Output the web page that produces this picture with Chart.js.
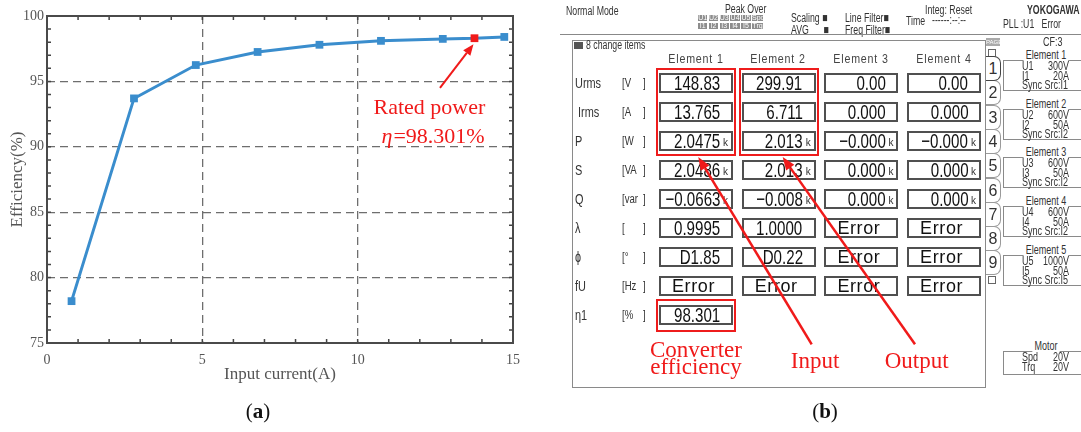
<!DOCTYPE html>
<html>
<head>
<meta charset="utf-8">
<script src="https://cdn.jsdelivr.net/npm/chart.js@4.4.1/dist/chart.umd.min.js"></script>
<style>
  body { margin: 0; background: #fff; }
  #page { position: relative; width: 1081px; height: 432px; overflow: hidden; background: #fff; }
  #effChart { position: absolute; left: 0; top: 0; }
  .abs { position: absolute; white-space: pre; }
  .cap { font-family: 'Liberation Serif', serif; font-size: 21px; color: #111; transform: translateX(-50%); }
  #panelB { position: absolute; left: 0; top: 0; width: 1081px; height: 432px; }
  #panelB .abs { font-family: 'Liberation Sans', sans-serif; color: #333; }
  .hdr { font-size: 12.5px; line-height: 11px; transform-origin: left top; transform: scaleX(0.7); }
  .mainbox { border: 1.5px solid #8a8a8a; box-sizing: border-box; }
  .elname { font-size: 13px; letter-spacing: 1px; color: #444 !important; transform: translate(-50%, -50%) scaleX(0.82); }
  .rowlbl { font-size: 14px; transform-origin: left center; transform: translateY(-50%) scaleX(0.78); }
  .unit { font-size: 12px; transform-origin: left center; transform: translateY(-50%) scaleX(0.8); }
  .vbox { border: 2px solid #505050; box-sizing: border-box; background: #fff; }
  .num { right: 11px; top: 50%; font-size: 21px; color: #111 !important; transform-origin: right center; transform: translateY(-50%) scaleX(0.72); }
  .kilo { right: 3px; top: 50%; font-size: 10px; transform: translateY(-35%); }
  .err { left: 11px; top: 50%; font-size: 18px; letter-spacing: 0.6px; color: #111 !important; transform: translateY(-50%); }
  .redbox { border: 2px solid #ee1c1c; box-sizing: border-box; }
  .tab { border: 1px solid #9a9a9a; border-left: none; border-radius: 0 7px 7px 0; box-sizing: border-box; background: #fff; font-size: 16px; text-align: center; line-height: 24px; }
  .info { font-size: 12px; line-height: 11px; transform-origin: left top; transform: scaleX(0.75); }
  .infor { font-size: 12px; line-height: 11px; text-align: right; transform-origin: right top; transform: scaleX(0.75); }
  .grp { border: 1px solid #8a8a8a; border-right: none; box-sizing: border-box; }
  .grplbl { font-size: 12.5px; background: #fff; padding: 0 3px; transform: translate(-50%, -50%) scaleX(0.72); }
  .mini { font-size: 7px; line-height: 6px; height: 6px; background: #8d8d8d; color: #fff !important; text-align: center; }
</style>
</head>
<body>
<div id="page">
  <canvas id="effChart" width="540" height="395"></canvas>
  <div id="panelB"></div>
  <svg id="overlay" class="abs" width="1081" height="432" style="left:0;top:0;pointer-events:none"></svg>
  <div class="abs cap" style="left:258px;top:399px">(<b>a</b>)</div>
  <div class="abs cap" style="left:825px;top:399px">(<b>b</b>)</div>
</div>
<script>
// ---- panel (a) data ----
const currentA = [0.79, 2.8, 4.79, 6.78, 8.77, 10.75, 12.74, 13.76, 14.72];
const efficiency = [78.2, 93.7, 96.25, 97.25, 97.8, 98.1, 98.25, 98.301, 98.4];
const ratedIndex = 7;
const xRange = [0, 15];
const yRange = [75, 100];
const majorStep = 5;

// ---- panel (b) data ----
const elementNames = ['Element 1', 'Element 2', 'Element 3', 'Element 4'];
const rowLabels = ['Urms', ' Irms', 'P', 'S', 'Q', 'λ', 'ɸ', 'fU', 'η1'];
const rowUnits = ['V', 'A', 'W', 'VA', 'var', '', '°', 'Hz', '%'];
const element1 = ['148.83', '13.765', '2.0475', '2.0486', '−0.0663', '0.9995', 'D1.85', 'Error', '98.301'];
const element2 = ['299.91', '6.711', '2.013', '2.013', '−0.008', '1.0000', 'D0.22', 'Error'];
const element3 = ['0.00', '0.000', '−0.000', '0.000', '0.000', 'Error', 'Error', 'Error'];
const element4 = ['0.00', '0.000', '−0.000', '0.000', '0.000', 'Error', 'Error', 'Error'];
const kiloRows = [2, 3, 4];
const rangeU = ['300V', '600V', '600V', '600V', '1000V'];
const rangeI = ['20A', '50A', '50A', '50A', '50A'];
const syncSrc = ['I1', 'I2', 'I2', 'I2', 'I5'];

const BLUE = '#3a8dcd';
const RED = '#f01a1a';
const AXIS_TXT = '#555';

// frame + inward minor ticks on all four sides
const frameTicks = {
  id: 'frameTicks',
  beforeDatasetsDraw(chart) {
    const {ctx, chartArea: a, scales: {x, y}} = chart;
    ctx.save();
    ctx.strokeStyle = '#444';
    ctx.lineWidth = 1.5;
    for (let v = xRange[0] + 1; v < xRange[1]; v++) {
      const px = x.getPixelForValue(v);
      ctx.beginPath();
      ctx.moveTo(px, a.bottom); ctx.lineTo(px, a.bottom - 4);
      ctx.moveTo(px, a.top); ctx.lineTo(px, a.top + 4);
      ctx.stroke();
    }
    for (let v = yRange[0] + 1; v < yRange[1]; v++) {
      const py = y.getPixelForValue(v);
      ctx.beginPath();
      ctx.moveTo(a.left, py); ctx.lineTo(a.left + 4, py);
      ctx.moveTo(a.right, py); ctx.lineTo(a.right - 4, py);
      ctx.stroke();
    }
    ctx.lineWidth = 2;
    ctx.strokeStyle = '#4a4a4a';
    ctx.strokeRect(a.left, a.top, a.right - a.left, a.bottom - a.top);
    ctx.restore();
  }
};

function arrowCanvas(ctx, x1, y1, x2, y2, w, len, half) {
  const ang = Math.atan2(y2 - y1, x2 - x1);
  const bx = x2 - len * Math.cos(ang), by = y2 - len * Math.sin(ang);
  ctx.beginPath();
  ctx.moveTo(x1, y1); ctx.lineTo(bx, by);
  ctx.lineWidth = w; ctx.stroke();
  ctx.beginPath();
  ctx.moveTo(x2, y2);
  ctx.lineTo(bx + half * Math.sin(ang), by - half * Math.cos(ang));
  ctx.lineTo(bx - half * Math.sin(ang), by + half * Math.cos(ang));
  ctx.closePath(); ctx.fill();
}

const ratedNote = {
  id: 'ratedNote',
  afterDatasetsDraw(chart) {
    const {ctx, scales: {x, y}} = chart;
    const px = x.getPixelForValue(currentA[ratedIndex]);
    const py = y.getPixelForValue(efficiency[ratedIndex]);
    ctx.save();
    ctx.strokeStyle = RED; ctx.fillStyle = RED;
    arrowCanvas(ctx, x.getPixelForValue(12.65), y.getPixelForValue(94.5), px - 1, py + 6, 2, 11, 4.5);
    ctx.font = '22px "Liberation Serif", serif';
    ctx.textAlign = 'center';
    ctx.fillText('Rated power', x.getPixelForValue(12.31), y.getPixelForValue(92.51));
    const rest = '=' + efficiency[ratedIndex].toFixed(3) + '%';
    const wRest = ctx.measureText(rest).width;
    ctx.font = 'italic 22px "Liberation Serif", serif';
    const wEta = ctx.measureText('η').width;
    const cx = x.getPixelForValue(12.41), by = y.getPixelForValue(90.31);
    const start = cx - (wEta + wRest) / 2;
    ctx.textAlign = 'left';
    ctx.fillText('η', start, by);
    ctx.font = '22px "Liberation Serif", serif';
    ctx.fillText(rest, start + wEta + 1, by);
    ctx.restore();
  }
};

const hideEdge = (lo, hi) => c => (c.tick && (c.tick.value === lo || c.tick.value === hi)) ? 'rgba(0,0,0,0)' : '#6e6e6e';

new Chart(document.getElementById('effChart'), {
  type: 'line',
  data: {
    datasets: [{
      data: currentA.map((v, i) => ({x: v, y: efficiency[i]})),
      borderColor: BLUE,
      borderWidth: 3,
      pointStyle: 'rect',
      pointRadius: 5.5,
      pointBorderWidth: 0,
      pointBackgroundColor: currentA.map((_, i) => i === ratedIndex ? RED : BLUE),
      pointBorderColor: currentA.map((_, i) => i === ratedIndex ? RED : BLUE),
      tension: 0
    }]
  },
  options: {
    responsive: false,
    animation: false,
    layout: {padding: {top: 16, right: 27, left: 0, bottom: 0}},
    plugins: {legend: {display: false}, tooltip: {enabled: false}},
    scales: {
      x: {
        type: 'linear', min: xRange[0], max: xRange[1],
        ticks: {stepSize: majorStep, color: AXIS_TXT, padding: 9, font: {family: 'Liberation Serif', size: 14}},
        grid: {color: hideEdge(xRange[0], xRange[1]), lineWidth: 1.3, drawTicks: false},
        border: {display: false, dash: [8, 5]},
        title: {display: true, text: 'Input current(A)', color: AXIS_TXT, padding: {top: 0, bottom: 10}, font: {family: 'Liberation Serif', size: 17}},
        afterFit: s => { s.height = 52; }
      },
      y: {
        type: 'linear', min: yRange[0], max: yRange[1],
        ticks: {stepSize: majorStep, color: AXIS_TXT, padding: 3, font: {family: 'Liberation Serif', size: 14}},
        grid: {color: hideEdge(yRange[0], yRange[1]), lineWidth: 1.3, drawTicks: false},
        border: {display: false, dash: [8, 5]},
        title: {display: true, text: 'Efficiency(%)', color: AXIS_TXT, padding: {top: 7, bottom: 0}, font: {family: 'Liberation Serif', size: 17}},
        afterFit: s => { s.width = 47; }
      }
    }
  },
  plugins: [frameTicks, ratedNote]
});

// ---- panel (b): analyser screen ----
const pb = document.getElementById('panelB');
function put(left, top, w, h, cls, text, parent) {
  const d = document.createElement('div');
  d.className = 'abs ' + (cls || '');
  if (left != null) d.style.left = left + 'px';
  if (top != null) d.style.top = top + 'px';
  if (w != null) d.style.width = w + 'px';
  if (h != null) d.style.height = h + 'px';
  if (text != null) d.textContent = text;
  (parent || pb).appendChild(d);
  return d;
}

// top status bar
put(566, 6, null, null, 'hdr', 'Normal Mode');
put(725, 4, null, null, 'hdr', 'Peak Over');
['U1', 'U2', 'U3', 'U4', 'U5', 'Spd'].forEach((t, i) => put(698 + i * 10.8, 15, i === 5 ? 11 : 9.4, null, 'mini', t));
['I1', 'I2', 'I3', 'I4', 'I5', 'Trq'].forEach((t, i) => put(698 + i * 10.8, 23, i === 5 ? 11 : 9.4, null, 'mini', t));
put(791, 13, null, null, 'hdr', 'Scaling ■');
put(791, 25, null, null, 'hdr', 'AVG      ■');
put(845, 13, null, null, 'hdr', 'Line Filter■');
put(845, 25, null, null, 'hdr', 'Freq Filter■');
put(906, 16, null, null, 'hdr', 'Time');
put(925, 5, null, null, 'hdr', 'Integ: Reset');
put(932, 15, null, null, 'hdr', '------:--:--');
const yk = put(1027, 5, null, null, 'hdr', 'YOKOGAWA');
yk.style.fontWeight = 'bold';
put(1003, 19, null, null, 'hdr', 'PLL :U1   Error');
put(560, 34, 521, 0, '').style.borderTop = '1.5px solid #888';

// main window
put(571.5, 40, 414, 348, 'mainbox');
put(574, 42, 9, 7, '').style.background = '#555';
put(586, 40, null, null, 'hdr', '8 change items');

const columns = [element1, element2, element3, element4];
elementNames.forEach((n, c) => put(695.5 + c * 82.7, 58, null, null, 'elname', n));
rowLabels.forEach((lbl, r) => {
  const cy = 83.3 + r * 29;
  put(575, cy, null, null, 'rowlbl', lbl);
  put(622, cy, null, null, 'unit', '[' + rowUnits[r]);
  put(643, cy, null, null, 'unit', ']');
});
columns.forEach((col, c) => {
  col.forEach((v, r) => {
    const box = put(659 + c * 82.7, 73.3 + r * 29, 74, 20, 'vbox');
    if (v === 'Error') {
      put(null, null, null, null, 'err', v, box);
    } else {
      put(null, null, null, null, 'num', v, box);
      if (kiloRows.includes(r)) put(null, null, null, null, 'kilo', 'k', box);
    }
  });
});

// red highlight boxes
put(656, 67.7, 80, 88.5, 'redbox');
put(739, 67.7, 79.5, 88.5, 'redbox');
put(656, 299.3, 80, 33, 'redbox');

// page tabs
const pg = put(986, 38, 14, 8, '', 'PAGE');
pg.style.fontSize = '6px'; pg.style.lineHeight = '8px'; pg.style.background = '#aaa'; pg.style.color = '#fff';
put(988, 49, 6, 6, '').style.border = '1px solid #666';
for (let i = 0; i < 9; i++) {
  const t = put(986, 56 + i * 24.3, 15, 25, 'tab', String(i + 1));
  if (i === 0) { t.style.borderColor = '#444'; t.style.zIndex = 2; }
}
put(988, 276, 6, 6, '').style.border = '1px solid #666';

// range groups on the right
put(1043, 37, null, null, 'info', 'CF:3');
rangeU.forEach((u, i) => {
  const top = 60 + i * 48.7;
  put(1003, top, 80, 31, 'grp');
  put(1046, top - 5, null, null, 'grplbl', 'Element ' + (i + 1));
  put(1022, top + 1, null, null, 'info', 'U' + (i + 1));
  put(1022, top + 11, null, null, 'info', 'I' + (i + 1));
  put(1000, top + 1, 69, null, 'infor', u);
  put(1000, top + 11, 69, null, 'infor', rangeI[i]);
  put(1022, top + 20, null, null, 'info', 'Sync Src:' + syncSrc[i]);
});
put(1003, 351, 80, 24, 'grp');
put(1046, 346, null, null, 'grplbl', 'Motor');
put(1022, 352, null, null, 'info', 'Spd');
put(1022, 362, null, null, 'info', 'Trq');
put(1000, 352, 69, null, 'infor', '20V');
put(1000, 362, 69, null, 'infor', '20V');

// red arrows and labels
const svg = document.getElementById('overlay');
const NS = 'http://www.w3.org/2000/svg';
function svgArrow(x1, y1, x2, y2) {
  const ang = Math.atan2(y2 - y1, x2 - x1), len = 13, half = 5;
  const bx = x2 - len * Math.cos(ang), by = y2 - len * Math.sin(ang);
  const l = document.createElementNS(NS, 'line');
  l.setAttribute('x1', x1); l.setAttribute('y1', y1); l.setAttribute('x2', bx); l.setAttribute('y2', by);
  l.setAttribute('stroke', RED); l.setAttribute('stroke-width', 2.5);
  svg.appendChild(l);
  const p = document.createElementNS(NS, 'polygon');
  p.setAttribute('points', `${x2},${y2} ${bx + half * Math.sin(ang)},${by - half * Math.cos(ang)} ${bx - half * Math.sin(ang)},${by + half * Math.cos(ang)}`);
  p.setAttribute('fill', RED);
  svg.appendChild(p);
}
function svgText(x, y, t) {
  const e = document.createElementNS(NS, 'text');
  e.setAttribute('x', x); e.setAttribute('y', y);
  e.setAttribute('text-anchor', 'middle');
  e.setAttribute('fill', RED);
  e.setAttribute('font-family', 'Liberation Serif, serif');
  e.setAttribute('font-size', '23');
  e.textContent = t;
  svg.appendChild(e);
}
svgArrow(811.7, 344.3, 698.3, 157);
svgArrow(915, 344.3, 782.7, 157);
svgText(696, 357, 'Converter');
svgText(696, 374, 'efficiency');
svgText(815, 368, 'Input');
svgText(916.7, 368, 'Output');
</script>
</body>
</html>
